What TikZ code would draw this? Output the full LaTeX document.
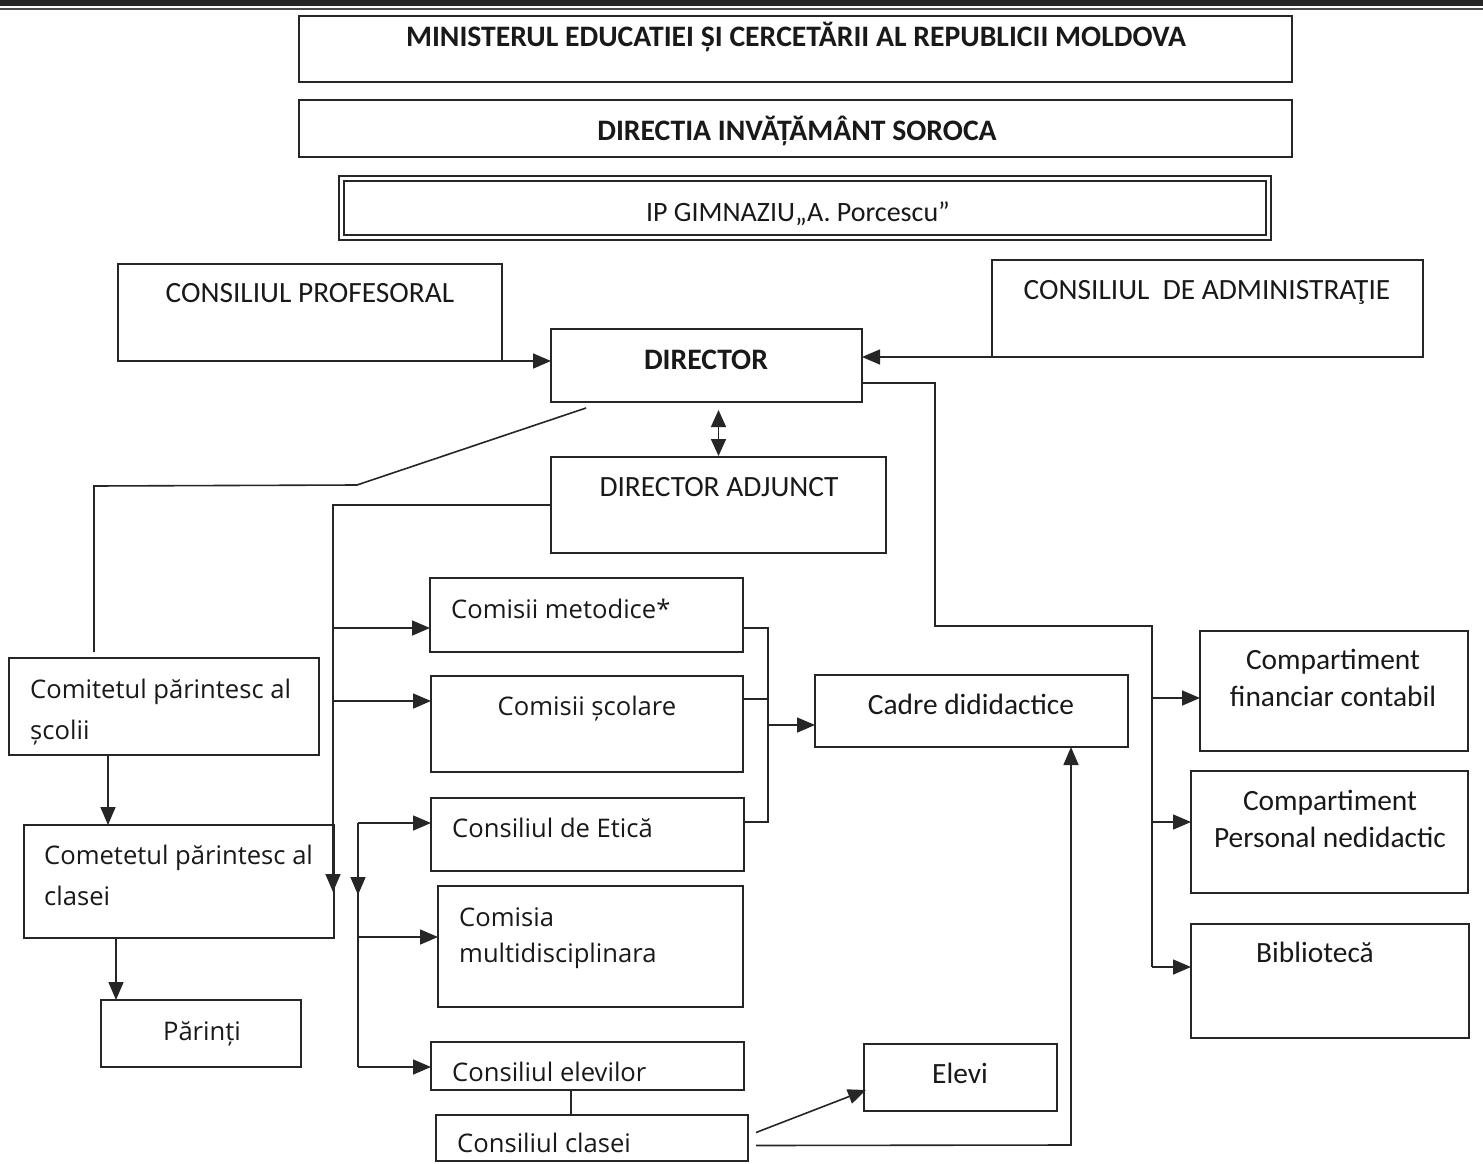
\documentclass[tikz,border=0pt]{standalone}
\usepackage{fontspec}
\setmainfont{Carlito}
\newfontfamily\seg{Open Sans}
\usetikzlibrary{arrows.meta,calc}
\newcommand\bx[5]{\node[box, minimum width={(#4-#2)*1pt}, minimum height={(#5-#3)*1pt}] (#1) at ({(#2+#4)/2},{(#3+#5)/2}) {};}
\tikzset{
  box/.style={draw=black!85, line width=1.6pt, inner sep=0pt, outer sep=0pt},
  ln/.style={draw=black!85, line width=1.6pt},
  arr/.style={ln, -{Triangle[length=18pt,width=15pt]}},
  arrtwo/.style={ln, {Triangle[length=17pt,width=15pt]}-{Triangle[length=17pt,width=15pt]}},
  txt/.style={inner sep=0pt, text=black!90, font=\fontsize{29.4}{34}\selectfont},
  btxt/.style={inner sep=0pt, text=black!90, font=\bfseries\fontsize{29.7}{34}\selectfont},
  stxt/.style={inner sep=0pt, text=black!90, font=\seg\fontsize{25.6}{30}\selectfont}
}
\begin{document}
\begin{tikzpicture}[x=1pt,y=-1pt]
\fill[white] (0,0) rectangle (1483,1164);
\useasboundingbox (0,0) rectangle (1483,1164);
% scan band
\fill[black!85] (0,0) rectangle (1483,6);
\draw[black!70, line width=1.5pt] (0,9) -- (1483,9);
% boxes
\bx{min}{299}{16}{1292}{82}
\bx{dirinv}{299}{100}{1292}{157}
\bx{ip}{339}{176}{1271}{240}
\draw[box] ($(ip.south west)+(5,-5)$) rectangle ($(ip.north east)+(-5,5)$);
\bx{cp}{118}{264}{502}{361}
\bx{ca}{992}{260}{1423}{357}
\bx{dir}{551}{329}{862}{402}
\bx{da}{551}{457}{886}{553}
\bx{cm}{430}{578}{743}{652}
\bx{cs}{431}{676}{743}{772}
\bx{et}{431}{798}{744}{871}
\bx{mu}{438}{886}{743}{1007}
\bx{ce}{431}{1042}{744}{1090}
\bx{cc}{436}{1115}{748}{1161}
\bx{cd}{815}{675}{1128}{747}
\bx{cf}{1200}{631}{1468}{751}
\bx{pn}{1191}{771}{1468}{893}
\bx{bib}{1191}{924}{1469}{1038}
\bx{el}{864}{1044}{1057}{1111}
\bx{cps}{9}{658}{319}{755}
\bx{cpc}{24}{825}{334}{938}
\bx{par}{101}{1000}{301}{1067}
% texts
\node[btxt, anchor=base] (tmin) at (796,47) {MINISTERUL EDUCATIEI ȘI CERCETĂRII AL REPUBLICII MOLDOVA};
\node[btxt, anchor=base] (tdirinv) at (797,140) {DIRECTIA INVĂȚĂMÂNT SOROCA};
\node[txt, anchor=base, font=\fontsize{28}{34}\selectfont] (tip) at (798,221) {IP GIMNAZIU„A. Porcescu”};
\node[txt, anchor=base] (tcp) at (310,302) {CONSILIUL PROFESORAL};
\node[txt, anchor=base] (tca) at (1207,299) {CONSILIUL\ \ DE ADMINISTRAŢIE};
\node[btxt, anchor=base] (tdir) at (706,369) {DIRECTOR};
\node[txt, anchor=base] (tda) at (719,496) {DIRECTOR ADJUNCT};
\node[stxt, anchor=base west] (tcm) at (451,618) {Comisii metodice*};
\node[stxt, anchor=base] (tcs) at (587,715) {Comisii școlare};
\node[stxt, anchor=base west] (tet) at (452,837) {Consiliul de Etică};
\node[stxt, anchor=base west] (tmu1) at (459,926) {Comisia};
\node[stxt, anchor=base west] (tmu2) at (459,962) {multidisciplinara};
\node[stxt, anchor=base west] (tce) at (452,1081) {Consiliul elevilor};
\node[stxt, anchor=base west] (tcc) at (457,1152) {Consiliul clasei};
\node[txt, anchor=base] (tcd) at (971,714) {Cadre dididactice};
\node[txt, anchor=base] (tcf1) at (1333,669) {Compartiment};
\node[txt, anchor=base] (tcf2) at (1333,706) {financiar contabil};
\node[txt, anchor=base] (tpn1) at (1330,810) {Compartiment};
\node[txt, anchor=base] (tpn2) at (1330,847) {Personal nedidactic};
\node[txt, anchor=base] (tbib) at (1315,962) {Bibliotecă};
\node[txt, anchor=base] (tel) at (960,1083) {Elevi};
\node[stxt, anchor=base west] (tcps1) at (30,698) {Comitetul părintesc al};
\node[stxt, anchor=base west] (tcps2) at (30,739) {școlii};
\node[stxt, anchor=base west] (tcpc1) at (44,864) {Cometetul părintesc al};
\node[stxt, anchor=base west] (tcpc2) at (44,905) {clasei};
\node[stxt, anchor=base] (tpar) at (202,1040) {Părinți};
% coordinates
\coordinate (k1) at (357,485);
\coordinate (k2) at (94,486);
\coordinate (bl) at (333,892);
\coordinate (b2t) at (358,823);
\coordinate (b2b) at (358,1067);
\coordinate (rb) at (768,628);
\coordinate (rr1) at (935,383);
\coordinate (rr2) at (935,626);
\coordinate (rr3) at (1152,626);
\coordinate (rr4) at (1152,967);
\coordinate (up) at (1071,1145);
% connectors
\draw[arr] (cp.south east) -- (cp.south east -| dir.west);
\draw[arr] (ca.south west) -- (ca.south west -| dir.east);
\draw[arrtwo] ($(da.north)+(0,-1)$) -- ++(0,-46);
\draw[ln] ($(dir.south west)+(35,6)$) -- (k1) -- (k2) -- ($(cps.north west)+(85,-6)$);
\draw[arr] (da.west) -| (bl);
\draw[arr] ($(cm.west -| bl)+(0,13)$) -- ($(cm.west)+(0,13)$);
\draw[arr] ($(cs.west -| bl)+(0,-23)$) -- ($(cs.west)+(0,-23)$);
\draw[ln] (b2t) -- (b2b);
\draw[arr] (b2t) -- (358,895);
\draw[arr] (b2t) -- (b2t -| et.west);
\draw[arr] (358,937) -- (mu.west |- 0,937);
\draw[arr] (b2b) -- (b2b -| ce.west);
\draw[ln] (cm.east |- rb) -- (rb) |- (et.east |- 0,822);
\draw[ln] (cs.east |- 0,699) -- (768,699);
\draw[arr] (768,725) -- (cd.west |- 0,725);
\draw[ln] (dir.east |- rr1) -- (rr1) -- (rr2) -- (rr3) -- (rr4);
\draw[arr] (1152,698) -- (cf.west |- 0,698);
\draw[arr] (1152,822) -- (pn.west |- 0,822);
\draw[arr] (rr4) -- (bib.west |- rr4);
\draw[ln] (ce.south -| 571,0) -- (cc.north -| 571,0);
\draw[arr] ($(cc.east)+(8,-5.5)$) -- ($(el.west)+(2,12.5)$);
\draw[arr] ($(cc.east)+(8,7.5)$) -- (up) -- (cd.south -| up);
\draw[arr] (cps.south -| 108,0) -- (cpc.north -| 108,0);
\draw[arr] (cpc.south -| 116,0) -- (par.north -| 116,0);
\end{tikzpicture}
\end{document}
